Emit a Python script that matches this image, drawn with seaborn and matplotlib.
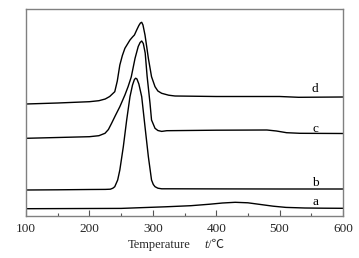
import matplotlib
matplotlib.use("Agg")
import matplotlib.pyplot as plt
import seaborn as sns
import pandas as pd
from matplotlib.ticker import MultipleLocator

sns.set_theme(style="white")
plt.rcParams['font.family'] = ['Liberation Serif', 'Noto Sans CJK SC', 'DejaVu Serif']

# curve a
t_a = [100, 150, 200, 250, 280, 320, 360, 390, 410, 430, 450, 470, 490, 510, 540, 570, 600]
y_a = [7.3, 7.4, 7.5, 7.6, 8.3, 9.2, 10.3, 11.8, 13.0, 13.7, 13.2, 11.5, 9.8, 8.6, 8.0, 7.8, 7.7]

# curve b
t_b = [100, 150, 200, 225, 233, 237, 240, 244.6, 248, 253.5, 258.8, 264, 268, 271, 273, 275,
       278, 282.5, 287.7, 293, 298, 300.8, 303.5, 308, 314, 330, 400, 500, 600]
y_b = [26.0, 26.2, 26.5, 26.6, 26.8, 27.8, 29.3, 36.0, 46.0, 69.3, 96.0, 119.3, 131.0, 136.5,
       137.8, 137.0, 132.0, 119.3, 89.3, 59.3, 36.0, 31.5, 29.3, 27.8, 27.2, 27.2, 27.1, 27.0, 27.0]

# curve c
t_c = [100, 150, 200, 215, 224.6, 230, 235, 241, 248, 256, 261, 266, 272, 277, 280, 282.5,
       285, 288, 291, 295.6, 298, 303.5, 308, 314, 322, 400, 480, 495, 511, 532, 600]
y_c = [77.7, 78.5, 79.3, 80.3, 82.7, 86.5, 92.7, 100.5, 109.3, 121.0, 129.3, 139.0, 157.7,
       169.5, 173.5, 175.0, 172.5, 163.0, 140.0, 112.7, 96.0, 87.7, 85.5, 84.6, 85.3, 85.8, 86.0,
       85.0, 83.3, 82.7, 82.5]

# curve d
t_d = [100, 150, 200, 215, 225, 232, 240, 244, 248, 252, 256, 264, 268, 271, 274.6, 278,
       280.5, 282.5, 284.5, 287.7, 290, 293, 298, 303.5, 308, 314, 325, 335, 400, 500, 530, 600]
y_d = [112.0, 113.0, 114.3, 115.3, 117.0, 119.5, 124.3, 135.0, 151.0, 160.5, 167.7, 176.0,
       179.0, 181.0, 186.0, 190.5, 193.0, 193.7, 191.0, 181.0, 171.0, 157.7, 139.3, 129.3, 125.0,
       122.7, 120.8, 120.0, 119.5, 119.5, 118.7, 119.0]

labels = ['a', 'b', 'c', 'd']
label_t = 556
label_y = [11, 30.5, 84, 124]

frames = []
for name, t, y in [('a', t_a, y_a), ('b', t_b, y_b), ('c', t_c, y_c), ('d', t_d, y_d)]:
    frames.append(pd.DataFrame({'t': t, 'y': y, 'curve': name}))
df = pd.concat(frames, ignore_index=True)

fig = plt.figure(figsize=(3.59, 2.58), dpi=100)
ax = fig.add_axes([26 / 359, 42 / 258, 317 / 359, 207 / 258])
sns.lineplot(data=df, x='t', y='y', units='curve', estimator=None, color='black',
             linewidth=1.0, ax=ax, legend=False, sort=False)

for lab, ly in zip(labels, label_y):
    ax.text(label_t, ly, lab, fontsize=9.5, ha='center', va='baseline', color='black')

ax.set_xlim(100, 600)
ax.set_ylim(0, 207)
ax.set_yticks([])
ax.xaxis.set_major_locator(MultipleLocator(100))
ax.xaxis.set_minor_locator(MultipleLocator(50))
ax.tick_params(axis='x', which='major', direction='in', length=4, width=0.8,
               color='#555555', labelsize=9.5, pad=5, bottom=True, top=False)
ax.tick_params(axis='x', which='minor', direction='in', length=2, width=0.8,
               color='#555555', bottom=True, top=False)
for s in ax.spines.values():
    s.set_color('#808080')
    s.set_linewidth(1.0)
ax.set_ylabel('')
ax.set_xlabel('')

# x-axis label: "Temperature    t /℃" (t italic)
fig.text(159.5 / 359, 1 - 245 / 258, 'Temperature', fontsize=9, ha='center', va='center',
         family=['Liberation Serif', 'Noto Sans CJK SC'])
fig.text(206 / 359, 1 - 245 / 258, 't', fontsize=9, ha='center', va='center', style='italic',
         family=['Liberation Serif', 'Noto Sans CJK SC'])
fig.text(208.5 / 359, 1 - 245 / 258, '/℃', fontsize=9, ha='left', va='center',
         family=['Liberation Serif', 'Noto Sans CJK SC'])

fig.savefig('out.png', dpi=100)
